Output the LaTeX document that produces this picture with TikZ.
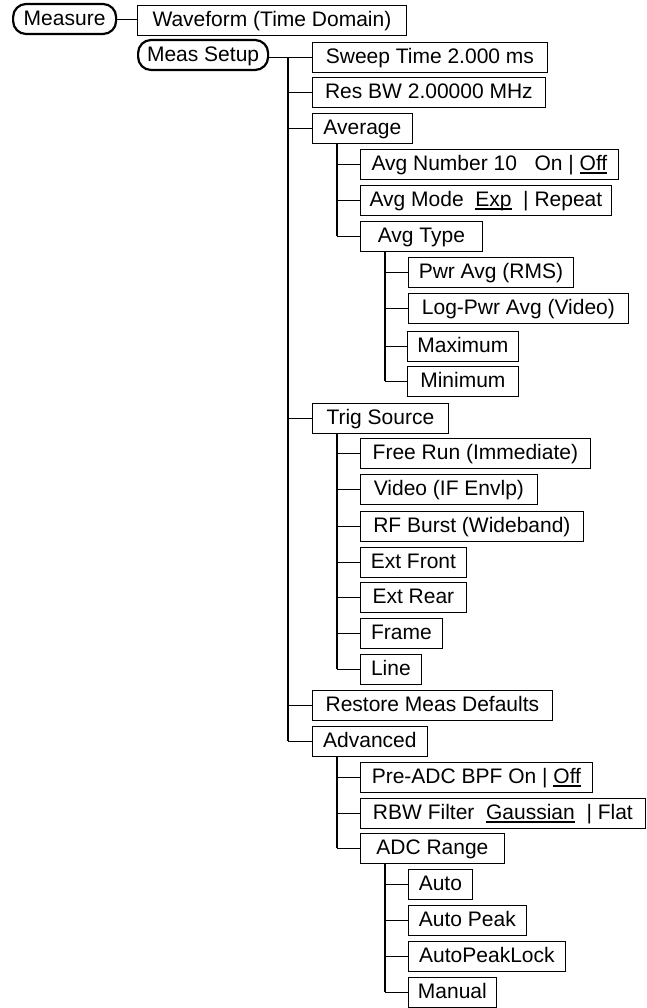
\documentclass[tikz,border=0pt]{standalone}
\usepackage{fontspec}
\setmainfont{Liberation Sans}

% selected choice of a toggle key
\newcommand\chosen[1]{\setbox0\hbox{#1}\rlap{\rule[-3.5pt]{\wd0}{1.6pt}}\box0}

\tikzset{
  menubox/.style={draw, line width=0.8pt, anchor=west, minimum height=30pt,
    inner xsep=0pt, inner ysep=3pt, text height=18.3pt, text depth=5.7pt,
    font=\fontsize{21}{25}\selectfont},
  keybox/.style={menubox, line width=2.2pt, rounded corners=13pt},
  trunk/.style={line width=1.5pt},
  branch/.style={line width=0.9pt},
}

\begin{document}
\begin{tikzpicture}[x=1pt,y=-1pt]
  \useasboundingbox (0,0) rectangle (646,1008);
  %
  \node[keybox, minimum width=103pt] (measure) at (12,19) {Measure};
  \node[menubox, minimum width=269pt] (wave) at (137,20) {Waveform (Time Domain)};
  \node[keybox, minimum width=130pt, minimum height=27pt] (setup) at (137,55) {Meas Setup};
  %
  \node[menubox, minimum width=235pt] (sweep) at (312,57) {Sweep Time 2.000 ms};
  \node[menubox, minimum width=233pt] (resbw) at (312,92) {Res BW 2.00000 MHz};
  \node[menubox, minimum width=100pt] (average) at (312,128) {Average};
  \node[menubox, minimum width=258pt] (avgnum) at (360,164) {Avg Number 10~~~On | \chosen{Off}};
  \node[menubox, minimum width=251pt] (avgmode) at (360,200) {Avg Mode~~\chosen{Exp}~~| Repeat};
  \node[menubox, minimum width=122pt] (avgtype) at (360,236) {Avg Type};
  \node[menubox, minimum width=165pt] (pwravg) at (408,272) {Pwr Avg (RMS)};
  \node[menubox, minimum width=220pt] (logpwr) at (408,308) {Log-Pwr Avg (Video)};
  \node[menubox, minimum width=111pt] (maximum) at (407,346) {Maximum};
  \node[menubox, minimum width=111pt] (minimum) at (407,381) {Minimum};
  %
  \node[menubox, minimum width=136pt] (trig) at (312,418) {Trig Source};
  \node[menubox, minimum width=230pt] (freerun) at (360,453) {Free Run (Immediate)};
  \node[menubox, minimum width=177pt] (video) at (360,489) {Video (IF Envlp)};
  \node[menubox, minimum width=223pt] (rfburst) at (360,526) {RF Burst (Wideband)};
  \node[menubox, minimum width=106pt] (extfront) at (360,562) {Ext Front};
  \node[menubox, minimum width=106pt] (extrear) at (360,597) {Ext Rear};
  \node[menubox, minimum width=82pt] (frame) at (360,633) {Frame};
  \node[menubox, minimum width=61pt] (linetrig) at (360,669) {Line};
  %
  \node[menubox, minimum width=240pt] (restore) at (312,705) {Restore Meas Defaults};
  \node[menubox, minimum width=115pt] (advanced) at (312,741) {Advanced};
  \node[menubox, minimum width=232pt] (preadc) at (360,777) {Pre-ADC BPF On | \chosen{Off}};
  \node[menubox, minimum width=285pt] (rbw) at (360,813) {RBW Filter~~\chosen{Gaussian}~~| Flat};
  \node[menubox, minimum width=144pt] (adc) at (360,848) {ADC Range};
  \node[menubox, minimum width=64pt] (auto) at (408,884) {Auto};
  \node[menubox, minimum width=118pt] (autopeak) at (408,920) {Auto Peak};
  \node[menubox, minimum width=157pt] (peaklock) at (408,956) {AutoPeakLock};
  \node[menubox, minimum width=88pt] (manual) at (408,992) {Manual};
  %
  \draw[branch] (measure.east) -- (measure.east -| wave.west);
  \draw[branch] (setup.east |- sweep.west) -- (sweep.west);
  %
  \coordinate (setuptrunk) at ([xshift=-24pt]sweep.west);
  \draw[trunk] (setuptrunk) -- (setuptrunk |- advanced.west);
  \foreach \k in {resbw,average,trig,restore,advanced}
    \draw[branch] (setuptrunk |- \k.west) -- (\k.west);
  %
  \coordinate (avgtrunk) at ([xshift=25pt]average.south west);
  \draw[trunk] (avgtrunk) -- (avgtrunk |- avgtype.west);
  \foreach \k in {avgnum,avgmode,avgtype}
    \draw[branch] (avgtrunk |- \k.west) -- (\k.west);
  %
  \coordinate (typetrunk) at ([xshift=25pt]avgtype.south west);
  \draw[trunk] (typetrunk) -- (typetrunk |- minimum.west);
  \foreach \k in {pwravg,logpwr,maximum,minimum}
    \draw[branch] (typetrunk |- \k.west) -- (\k.west);
  %
  \coordinate (trigtrunk) at ([xshift=25pt]trig.south west);
  \draw[trunk] (trigtrunk) -- (trigtrunk |- linetrig.west);
  \foreach \k in {freerun,video,rfburst,extfront,extrear,frame,linetrig}
    \draw[branch] (trigtrunk |- \k.west) -- (\k.west);
  %
  \coordinate (advtrunk) at ([xshift=25pt]advanced.south west);
  \draw[trunk] (advtrunk) -- (advtrunk |- adc.west);
  \foreach \k in {preadc,rbw,adc}
    \draw[branch] (advtrunk |- \k.west) -- (\k.west);
  %
  \coordinate (adctrunk) at ([xshift=25pt]adc.south west);
  \draw[trunk] (adctrunk) -- (adctrunk |- manual.west);
  \foreach \k in {auto,autopeak,peaklock,manual}
    \draw[branch] (adctrunk |- \k.west) -- (\k.west);
\end{tikzpicture}
\end{document}
